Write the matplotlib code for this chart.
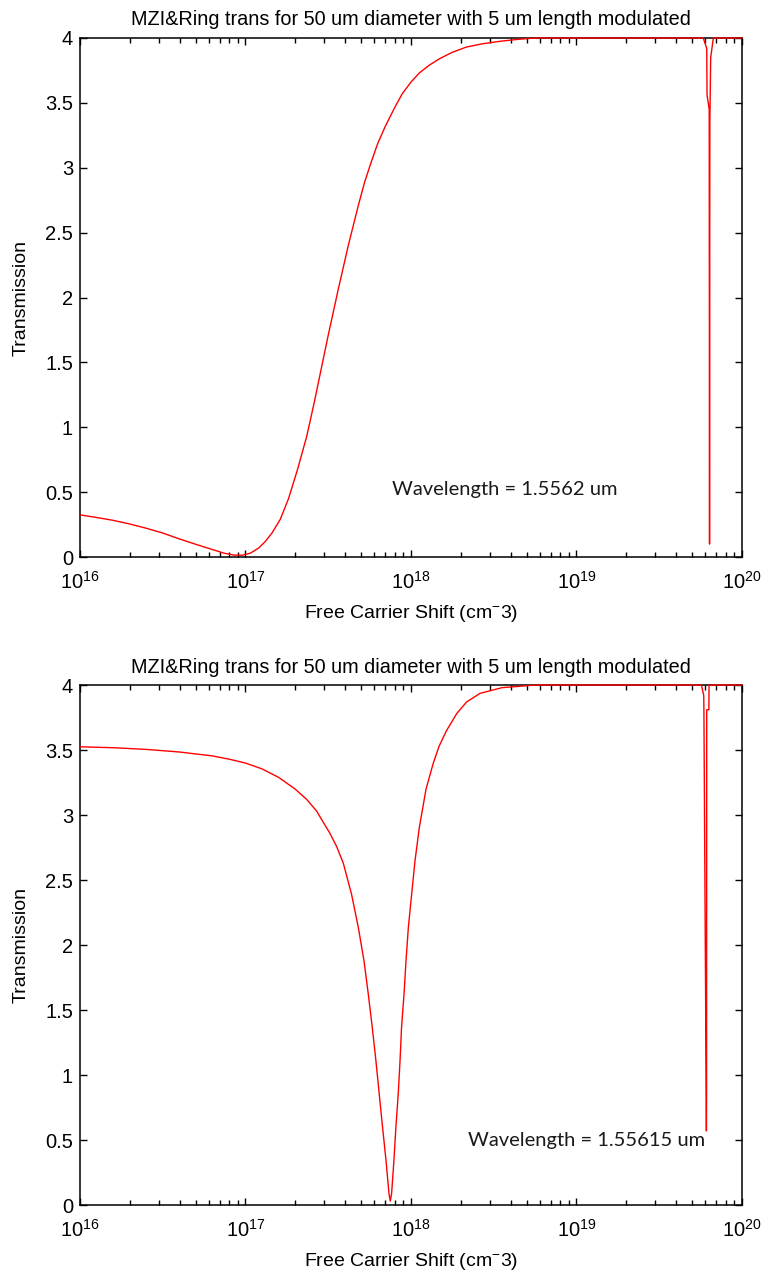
import numpy as np
import matplotlib
matplotlib.use("Agg")
import matplotlib.pyplot as plt
from matplotlib.ticker import LogLocator, FormatStrFormatter, NullFormatter

plt.rcParams["font.family"] = ["Liberation Sans", "DejaVu Sans"]
plt.rcParams["mathtext.fontset"] = "custom"
plt.rcParams["mathtext.rm"] = "Liberation Sans"
plt.rcParams["mathtext.default"] = "regular"

# carrier density as log10(N), transmission at lambda = 1.5562 um
top_logN = [16.00, 16.10, 16.20, 16.30, 16.40, 16.50, 16.60, 16.70, 16.80, 16.87,
            16.93, 16.98, 17.03, 17.08, 17.12, 17.16, 17.21, 17.26, 17.315, 17.37,
            17.417, 17.46, 17.50, 17.56, 17.621, 17.682, 17.72, 17.764, 17.80, 17.845,
            17.90, 17.947, 18.00, 18.05, 18.11, 18.172, 18.25, 18.335, 18.43, 18.54,
            18.65, 18.75, 19.766, 19.787, 19.789, 19.802, 19.804, 19.806, 19.811, 19.827,
            20.00]
top_T = [0.325, 0.305, 0.283, 0.255, 0.222, 0.185, 0.140, 0.098, 0.058, 0.030,
         0.015, 0.014, 0.030, 0.070, 0.120, 0.185, 0.29, 0.45, 0.677, 0.93,
         1.20, 1.465, 1.71, 2.06, 2.40, 2.71, 2.89, 3.06, 3.19, 3.32,
         3.46, 3.57, 3.66, 3.73, 3.79, 3.84, 3.89, 3.93, 3.955, 3.975,
         3.99, 4.0, 4.0, 3.92, 3.56, 3.45, 0.10, 3.35, 3.85, 4.0,
         4.0]

# same sweep at lambda = 1.55615 um
bot_logN = [16.00, 16.20, 16.40, 16.60, 16.80, 16.90, 17.00, 17.10, 17.20, 17.30,
            17.37, 17.43, 17.51, 17.55, 17.591, 17.641, 17.682, 17.716, 17.742, 17.766,
            17.788, 17.808, 17.828, 17.849, 17.867, 17.875, 17.883, 17.897, 17.909, 17.923,
            17.934, 17.943, 17.958, 17.97, 17.984, 18.004, 18.024, 18.05, 18.091, 18.135,
            18.17, 18.215, 18.276, 18.336, 18.417, 18.55, 18.75, 19.755, 19.769, 19.770,
            19.785, 19.786, 19.787, 19.800, 19.801, 20.00]
bot_T = [3.525, 3.518, 3.505, 3.485, 3.455, 3.43, 3.40, 3.355, 3.29, 3.20,
         3.12, 3.03, 2.86, 2.76, 2.63, 2.39, 2.134, 1.879, 1.623, 1.367,
         1.112, 0.856, 0.601, 0.345, 0.089, 0.03, 0.089, 0.345, 0.601, 0.856,
         1.112, 1.367, 1.623, 1.879, 2.134, 2.39, 2.645, 2.901, 3.20, 3.40,
         3.53, 3.65, 3.78, 3.87, 3.936, 3.98, 4.0, 4.0, 3.92, 3.81,
         0.57, 0.83, 3.81, 3.81, 4.0, 4.0]

panels = [
    (top_logN, top_T, "Wavelength = 1.5562 um", 7.7e17, 0.52),
    (bot_logN, bot_T, "Wavelength = 1.55615 um", 2.2e18, 0.50),
]

fig = plt.figure(figsize=(7.61, 12.75), dpi=100)
axes = [fig.add_axes([0.1051, 0.5631, 0.8699, 0.4071]),
        fig.add_axes([0.1051, 0.0549, 0.8699, 0.4078])]

for ax, (logN, T, note, nx, ny) in zip(axes, panels):
    N = 10.0 ** np.array(logN)
    ax.plot(N, T, color="red", lw=1.0, zorder=3, clip_on=False)
    ax.set_xscale("log")
    ax.set_xlim(1e16, 1e20)
    ax.set_ylim(0, 4)
    ax.set_yticks(np.arange(0, 4.01, 0.5))
    ax.yaxis.set_major_formatter(FormatStrFormatter("%g"))
    ax.xaxis.set_major_locator(LogLocator(base=10, numticks=10))
    ax.xaxis.set_minor_locator(LogLocator(base=10, subs=np.arange(2, 10), numticks=20))
    ax.xaxis.set_minor_formatter(NullFormatter())
    ax.tick_params(axis="both", which="both", direction="in", top=True, right=True,
                   width=1.0, color="black")
    ax.tick_params(axis="x", which="major", length=5, pad=10, labelsize=14.5)
    ax.tick_params(axis="x", which="minor", length=3.5)
    ax.tick_params(axis="y", which="major", length=5, pad=5, labelsize=14.5)
    for s in ax.spines.values():
        s.set_linewidth(1.1)
    ax.set_title("MZI&Ring trans for 50 um diameter with 5 um length modulated",
                 fontsize=14.3, pad=9)
    ax.set_xlabel("Free Carrier Shift (cm$^{-}$3)", fontsize=14, labelpad=7)
    ax.set_ylabel("Transmission", fontsize=14, labelpad=11)
    ax.text(nx, ny, note, fontsize=14.5, family=["Lato", "DejaVu Sans"],
            color="#1a1a1a", va="center", ha="left")

fig.savefig("out.png", dpi=100)
